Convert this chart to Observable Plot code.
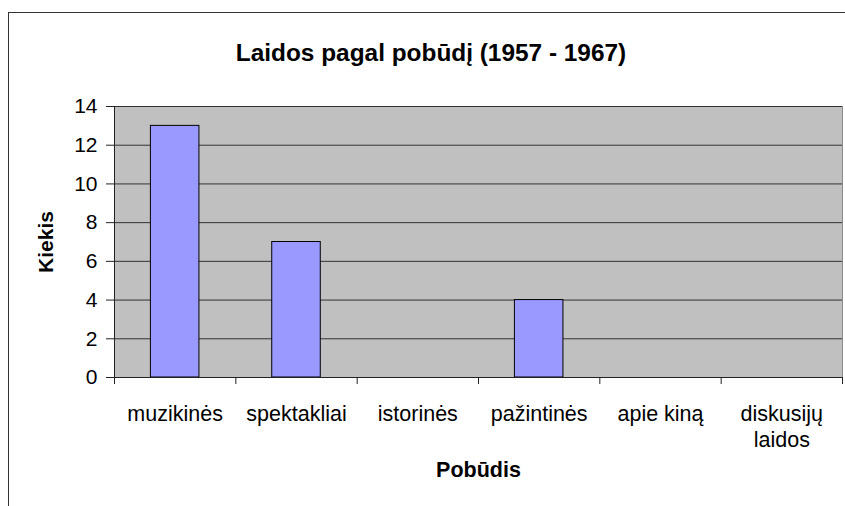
<!DOCTYPE html>
<html><head><meta charset="utf-8">
<script src="https://cdn.jsdelivr.net/npm/d3@7"></script>
<script src="https://cdn.jsdelivr.net/npm/@observablehq/plot@0.6"></script>
<style>
body{margin:0;background:#fff;}
#wrap{position:relative;width:845px;height:506px;overflow:hidden;}
#wrap svg{position:absolute;left:0;top:0;}
#border{position:absolute;left:8px;top:12px;width:900px;height:600px;border-left:1px solid #333;border-top:1px solid #333;pointer-events:none;}
</style></head><body><div id="wrap"></div>
<script>
const title = "Laidos pagal pobūdį (1957 - 1967)";
const yLabel = "Kiekis";
const xLabel = "Pobūdis";
const categories = ["muzikinės","spektakliai","istorinės","pažintinės","apie kiną","diskusijų laidos"];
const tickLabels = ["muzikinės","spektakliai","istorinės","pažintinės","apie kiną","diskusijų\nlaidos"];
const values = [13, 7, 0, 4, 0, 0];
const yTicks = [0, 2, 4, 6, 8, 10, 12, 14];

const data = categories.map((c, i) => ({cat: c, value: values[i]}));

const W = 845, H = 506, mL = 114, mR = 3, mT = 106, mB = 129;
const plotH = H - mT - mB;
const step = (W - mL - mR) / categories.length;
const font = "'Liberation Sans', Arial, sans-serif";

const chart = Plot.plot({
  width: W, height: H,
  marginLeft: mL, marginRight: mR, marginTop: mT, marginBottom: mB,
  style: {fontFamily: font, background: "transparent", color: "#000", overflow: "visible"},
  x: {type: "band", domain: categories, paddingInner: 0.6, paddingOuter: 0.3, round: false, axis: null},
  y: {domain: [0, 14], axis: null},
  marks: [
    Plot.frame({fill: "#C0C0C0", stroke: "#8a8a8a"}),
    Plot.gridY(yTicks, {stroke: "#333", strokeOpacity: 1}),
    Plot.barY(data.filter(d => d.value > 0), {x: "cat", y: "value", fill: "#9999FF", stroke: "#000", strokeWidth: 1}),
    Plot.ruleX([categories[0]], {x: d => d, dx: -step / 2, stroke: "#222"}),
    Plot.ruleY([0], {stroke: "#222"}),
    Plot.ruleX(categories, {x: d => d, dx: -step / 2, insetTop: plotH, insetBottom: -7, stroke: "#222"}),
    Plot.ruleX([categories[categories.length - 1]], {x: d => d, dx: step / 2, insetTop: plotH, insetBottom: -7, stroke: "#222"}),
    Plot.ruleY(yTicks, {y: d => d, insetLeft: -8, insetRight: W - mL - mR, stroke: "#222"}),
    Plot.text(yTicks, {y: d => d, text: d => String(d), frameAnchor: "left", textAnchor: "end", dx: -17, fontSize: 21, fill: "#000"}),
    Plot.text(categories, {x: d => d, text: (d, i) => tickLabels[i], frameAnchor: "bottom", lineAnchor: "top", dy: 25, fontSize: 21.5, lineHeight: 1.22, fill: "#000"}),
    Plot.text([title], {text: d => d, frameAnchor: "top", textAnchor: "middle", dx: -47.5, dy: -63, fontSize: 24.4, fontWeight: "bold", fill: "#000"}),
    Plot.text([yLabel], {text: d => d, frameAnchor: "left", textAnchor: "middle", dx: -68.7, rotate: -90, fontSize: 21, fontWeight: "bold", fill: "#000"}),
    Plot.text([xLabel], {text: d => d, frameAnchor: "bottom", textAnchor: "middle", dy: 99.4, fontSize: 21.5, fontWeight: "bold", fill: "#000"})
  ]
});
const wrap = document.getElementById("wrap");
wrap.appendChild(chart);
const b = document.createElement("div");
b.id = "border";
wrap.appendChild(b);
</script>
</body></html>
